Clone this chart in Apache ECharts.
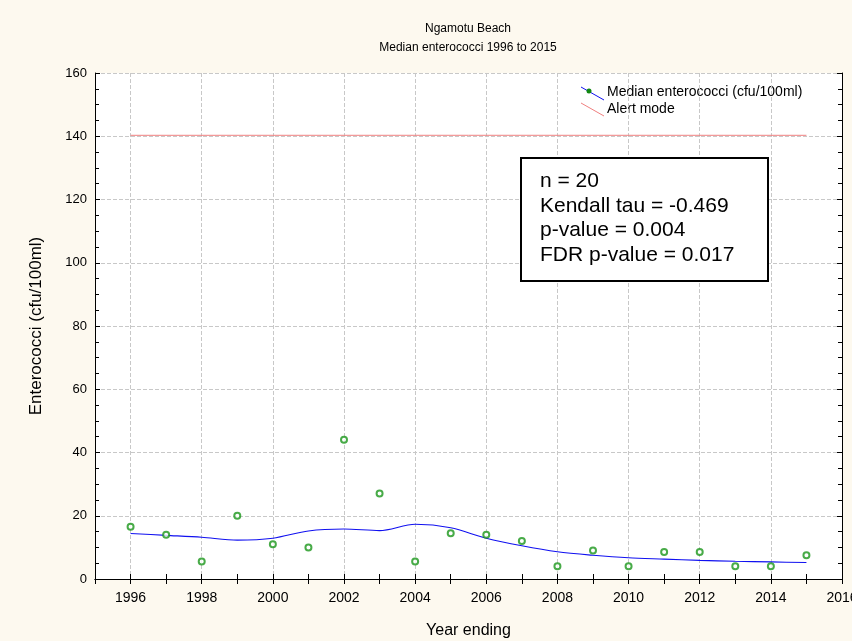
<!DOCTYPE html>
<html>
<head>
<meta charset="utf-8">
<script src="https://cdn.jsdelivr.net/npm/echarts@6/dist/echarts.min.js"></script>
<style>
  html, body { margin: 0; padding: 0; background: #fdf9ef; }
  #chart { width: 852px; height: 641px; }
</style>
</head>
<body>
<div id="chart"></div>
<script>
// data
var years = [1996, 1997, 1998, 1999, 2000, 2001, 2002, 2003, 2004, 2005,
             2006, 2007, 2008, 2009, 2010, 2011, 2012, 2013, 2014, 2015];
var medians = [16.5, 14, 5.5, 20, 11, 10, 44, 27, 5.5, 14.5,
               14, 12, 4, 9, 4, 8.5, 8.5, 4, 4, 7.5];
var trend = [14.4, 13.8, 13.2, 12.3, 12.9, 15.2, 15.8, 15.3, 17.3, 16.2,
             12.9, 10.5, 8.6, 7.5, 6.7, 6.3, 5.9, 5.6, 5.4, 5.2];
var alertYears = [1996, 2015];
var alertLevel = 140.3;
var statLines = ['n = 20', 'Kendall tau = -0.469', 'p-value = 0.004', 'FDR p-value = 0.017'];

var font = '"Liberation Sans", Arial, sans-serif';

function pairs(xs, ys) {
    return xs.map(function (x, i) { return [x, ys[i]]; });
}

var myChart = echarts.init(document.getElementById('chart'));

var option = {
    backgroundColor: '#fdf9ef',
    animation: false,
    textStyle: { fontFamily: font, color: '#000' },
    title: {
        text: 'Ngamotu Beach\nMedian enterococci 1996 to 2015',
        left: 463,
        textAlign: 'center',
        top: 14,
        textStyle: { fontSize: 12, fontWeight: 'normal', lineHeight: 19, color: '#000', fontFamily: font }
    },
    grid: {
        left: 95, right: 10, top: 73, bottom: 62,
        outerBoundsMode: 'none',
        show: true, backgroundColor: '#fff', borderWidth: 0
    },
    xAxis: [
        {
            type: 'value', min: 1995, max: 2016, interval: 1, position: 'bottom',
            name: 'Year ending', nameLocation: 'middle', nameGap: 44,
            nameTextStyle: { fontSize: 16, color: '#000' },
            axisLine: { lineStyle: { color: '#000', width: 1 } },
            axisTick: { inside: true, length: 5, lineStyle: { color: '#000' } },
            axisLabel: {
                fontSize: 14, color: '#000', margin: 12,
                formatter: function (v) { return v % 2 === 0 ? String(v) : ''; }
            },
            splitLine: { show: true, lineStyle: { color: ['transparent', '#c8c8c8'], type: 'dashed' } }
        },
        {
            type: 'value', min: 1995, max: 2016, interval: 1, position: 'top',
            axisLine: { lineStyle: { color: '#000', width: 1 } },
            axisTick: { inside: true, length: 5, lineStyle: { color: '#000' } },
            axisLabel: { show: false },
            splitLine: { show: false }
        }
    ],
    yAxis: [
        {
            type: 'value', min: 0, max: 160, interval: 20, position: 'left',
            name: 'Enterococci (cfu/100ml)', nameLocation: 'middle', nameGap: 50,
            nameTextStyle: { fontSize: 17, color: '#000' },
            axisLine: { show: true, lineStyle: { color: '#000', width: 1 } },
            axisTick: { show: true, inside: true, length: 5, lineStyle: { color: '#000' } },
            minorTick: { show: true, splitNumber: 4, length: 4, lineStyle: { color: '#000' } },
            axisLabel: { fontSize: 13, color: '#000', margin: 8 },
            splitLine: { show: true, lineStyle: { color: '#c8c8c8', type: 'dashed' } }
        },
        {
            type: 'value', min: 0, max: 160, interval: 20, position: 'right',
            axisLine: { show: true, lineStyle: { color: '#000', width: 1 } },
            axisTick: { show: true, inside: true, length: 5, lineStyle: { color: '#000' } },
            minorTick: { show: true, splitNumber: 4, length: 4, lineStyle: { color: '#000' } },
            axisLabel: { show: false },
            splitLine: { show: false }
        }
    ],
    series: [
        {
            name: 'Alert mode', type: 'line',
            data: pairs(alertYears, [alertLevel, alertLevel]),
            showSymbol: false, silent: true,
            lineStyle: { color: '#f08080', width: 1 }, z: 2
        },
        {
            name: 'Trend', type: 'line',
            data: pairs(years, trend),
            smooth: 0.3, showSymbol: false,
            lineStyle: { color: '#1010f0', width: 1.1 }, z: 3
        },
        {
            name: 'Median enterococci (cfu/100ml)', type: 'scatter',
            data: pairs(years, medians),
            symbol: 'emptyCircle', symbolSize: 6,
            itemStyle: { color: '#1a961a', borderColor: '#1a961a', borderWidth: 1 }, z: 4
        }
    ],
    graphic: [
        // legend
        { type: 'line', shape: { x1: 581, y1: 87, x2: 604, y2: 100 }, style: { stroke: '#1010f0', lineWidth: 1 } },
        { type: 'circle', shape: { cx: 589, cy: 91, r: 2.5 }, style: { fill: '#118811' } },
        { type: 'text', left: 607, top: 85, style: { text: 'Median enterococci (cfu/100ml)', font: '14px ' + font, fill: '#000' } },
        { type: 'line', shape: { x1: 581, y1: 103, x2: 604, y2: 116 }, style: { stroke: '#f08080', lineWidth: 1 } },
        { type: 'text', left: 607, top: 102, style: { text: 'Alert mode', font: '14px ' + font, fill: '#000' } },
        // stats box
        { type: 'rect', shape: { x: 521, y: 158, width: 247, height: 123 }, style: { fill: '#fff', stroke: '#000', lineWidth: 2 }, z: 10 },
        { type: 'text', left: 540, top: 169, z: 11,
          style: { text: statLines.join('\n'), font: '21px ' + font, lineHeight: 24.5, fill: '#000' } }
    ]
};

myChart.setOption(option);
</script>
</body>
</html>
